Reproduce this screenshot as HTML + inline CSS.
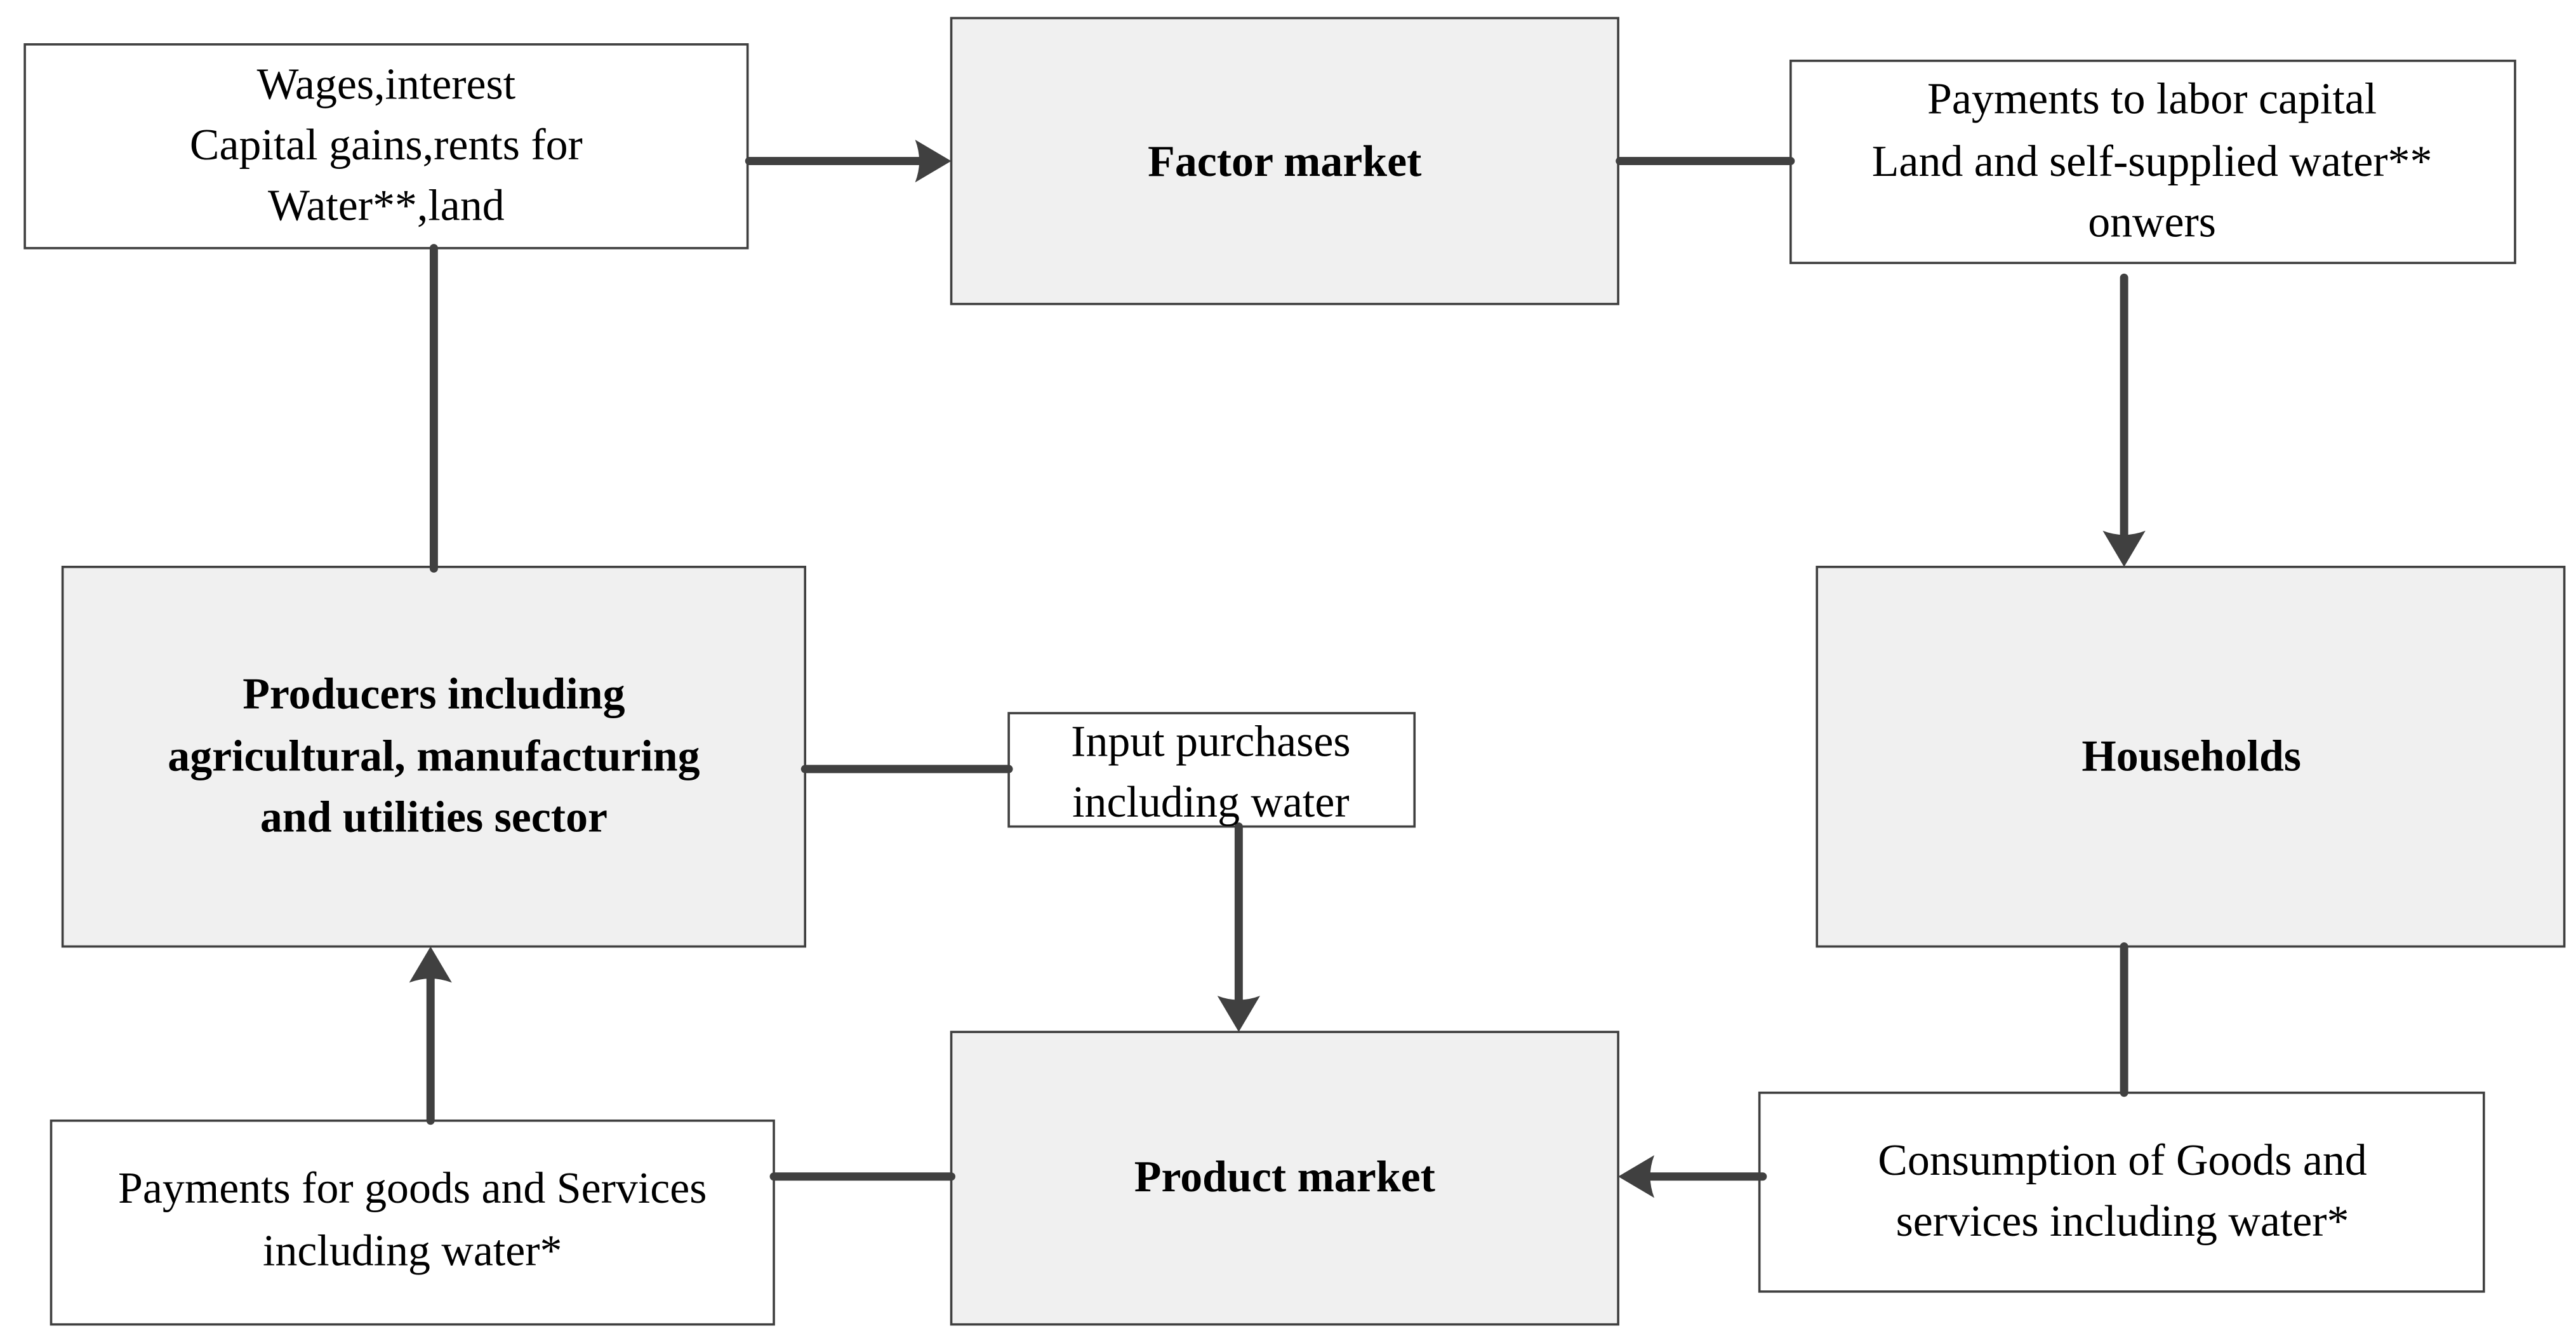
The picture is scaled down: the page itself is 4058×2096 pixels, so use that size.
<!DOCTYPE html>
<html><head><meta charset="utf-8"><style>
html,body{margin:0;padding:0;background:#fff;width:4058px;height:2096px;overflow:hidden}
svg{display:block}
text{font-family:"Liberation Serif",serif;font-size:27px;fill:#000;text-anchor:middle}
.b{font-weight:bold}
</style></head><body>
<svg width="4058" height="2096" viewBox="0 0 1568 810" xmlns="http://www.w3.org/2000/svg">
<g stroke="#404040" stroke-width="1.4">
<rect x="15" y="27" width="440" height="124" fill="#fff"/>
<rect x="579" y="11" width="406" height="174" fill="#f0f0f0"/>
<rect x="1090" y="37" width="441" height="123" fill="#fff"/>
<rect x="38" y="345" width="452" height="231" fill="#f0f0f0"/>
<rect x="614" y="434" width="247" height="69" fill="#fff"/>
<rect x="1106" y="345" width="455" height="231" fill="#f0f0f0"/>
<rect x="31" y="682" width="440" height="124" fill="#fff"/>
<rect x="579" y="628" width="406" height="178" fill="#f0f0f0"/>
<rect x="1071" y="665" width="441" height="121" fill="#fff"/>
</g>
<g stroke="#404040" stroke-width="5" stroke-linecap="round" fill="none">
<line x1="456" y1="98" x2="560" y2="98"/>
<line x1="986" y1="98" x2="1090" y2="98"/>
<line x1="1293" y1="169" x2="1293" y2="327"/>
<line x1="264" y1="151" x2="264" y2="346"/>
<line x1="490" y1="468" x2="614" y2="468"/>
<line x1="754" y1="503" x2="754" y2="610"/>
<line x1="1293" y1="576" x2="1293" y2="665"/>
<line x1="1073" y1="716" x2="1004" y2="716"/>
<line x1="471" y1="716" x2="579" y2="716"/>
<line x1="262" y1="682" x2="262" y2="595"/>
</g>
<g fill="#404040">
<path d="M579,98 L557,85 Q562,98 557,111 Z"/>
<path d="M1293,345 L1280,323 Q1293,328 1306,323 Z"/>
<path d="M754,628 L741,606 Q754,611 767,606 Z"/>
<path d="M985,716 L1007,703 Q1002,716 1007,729 Z"/>
<path d="M262,576 L249,598 Q262,593 275,598 Z"/>
</g>
<text x="235" y="60">Wages,interest</text>
<text x="235" y="97">Capital gains,rents for</text>
<text x="235" y="134">Water**,land</text>
<text class="b" x="782" y="107">Factor market</text>
<text x="1310" y="69">Payments to labor capital</text>
<text x="1310" y="107">Land and self-supplied water**</text>
<text x="1310" y="144">onwers</text>
<text class="b" x="264" y="431">Producers including</text>
<text class="b" x="264" y="469">agricultural, manufacturing</text>
<text class="b" x="264" y="506">and utilities sector</text>
<text x="737" y="460">Input purchases</text>
<text x="737" y="497">including water</text>
<text class="b" x="1334" y="469">Households</text>
<text class="b" x="782" y="725">Product market</text>
<text x="251" y="732">Payments for goods and Services</text>
<text x="251" y="770">including water*</text>
<text x="1292" y="715">Consumption of Goods and</text>
<text x="1292" y="752">services including water*</text>
</svg>
</body></html>
